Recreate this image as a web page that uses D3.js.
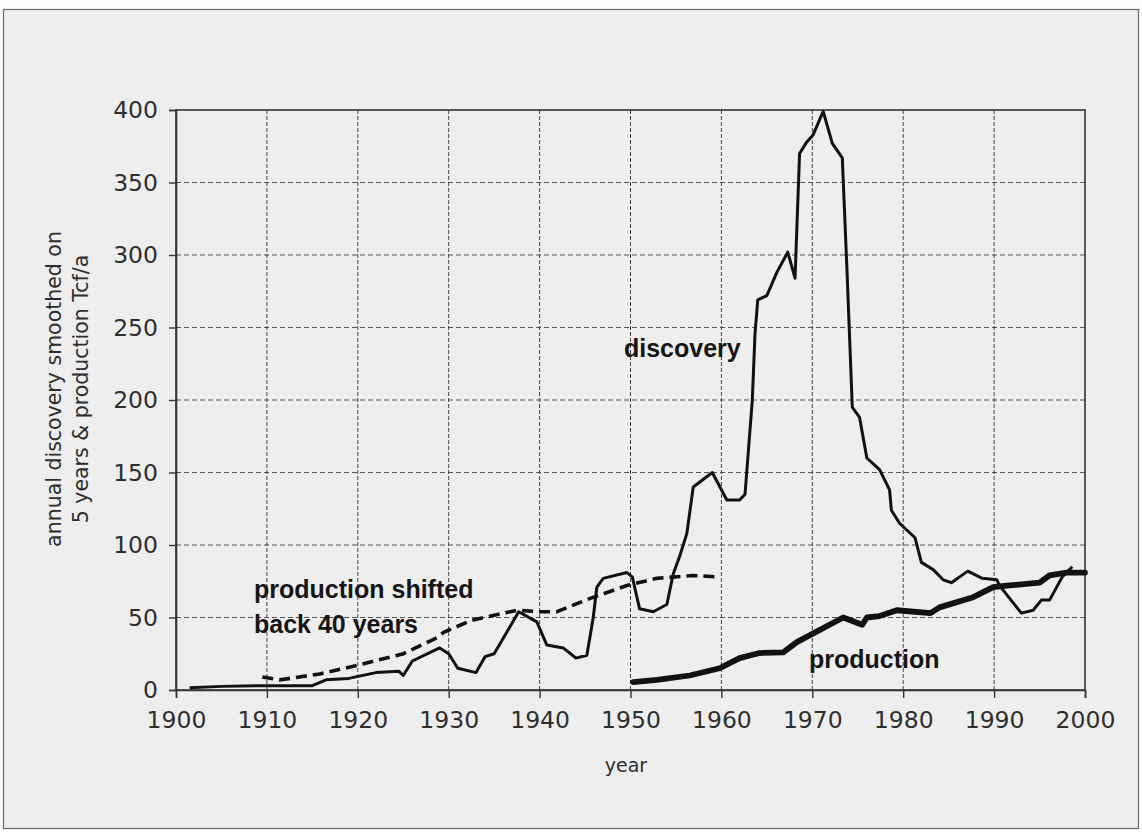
<!DOCTYPE html>
<html><head><meta charset="utf-8">
<script src="https://cdn.jsdelivr.net/npm/d3@7"></script>
<style>
html,body{margin:0;padding:0;background:#fff;}
svg{display:block;}
</style></head>
<body>
<svg id="chart" width="1142" height="832"></svg>
<script>
// ---- data ----
const discoveryYears = [1901.5,1905,1910,1915,1916.5,1919,1922,1924.5,1925,1926,1929,1930,1931,1933,1934,1935,1936.5,1937.7,1939.7,1940.8,1942.6,1944,1945.2,1945.9,1946.3,1947,1949.6,1950.2,1951,1952.5,1954,1954.7,1955.4,1956.2,1956.9,1959,1960.6,1962,1962.6,1963.4,1963.7,1964,1965,1966.1,1967.3,1968.1,1968.6,1969.4,1970.1,1971.2,1972.2,1973.3,1973.8,1974.4,1975.2,1976,1977.4,1978.5,1978.7,1979.6,1981.3,1982,1983.3,1984.4,1985.3,1987.1,1988.7,1990.3,1990.6,1993,1994.3,1995.2,1996.1,1997.5,1998.6];
const discoveryValues = [1.5,2.5,3,3,7,8,12,13,10,20,29,25,15,12,23,25,41,54,47,31,29,22,24,50,71,77,81,78,56,54,59,80,92,108,140,150,131,131,135,200,246,269,272,288,302,284,370,378,383,399,377,367,292,195,188,160,152,138,124,115,105,88,83,76,74,82,77,76,72,53,55,62,62,78,85];

const productionYears = [1950.3,1952.9,1956.5,1959.8,1962,1964.2,1966.8,1968.3,1973.4,1975.5,1976,1977.4,1979.3,1983,1984,1987.7,1989.9,1991.4,1995,1996.1,1998,2000];
const productionValues = [5.5,7,10,15,22,25.5,26,33,50,45,50,51,55,53,57,64,71,72,74,79,81,81];

const shiftedYears = [1909.5,1911.4,1915.8,1919.9,1925,1928.7,1929.5,1932.5,1937.5,1940,1941.9,1945.5,1949.6,1952.9,1956.9,1959.6];
const shiftedValues = [9,7,11,17,25,36,40,48,55,54,54,63,72,77,79,78];

const xTicks = [1900,1910,1920,1930,1940,1950,1960,1970,1980,1990,2000];
const yTicks = [0,50,100,150,200,250,300,350,400];

// ---- layout ----
const svg = d3.select("#chart");
const W = 1142, H = 832;
const mL = 176, mR = 1085, mT = 110, mB = 690;
const x = d3.scaleLinear().domain([1900,2000]).range([mL,mR]);
const y = d3.scaleLinear().domain([0,400]).range([mB,mT]);

svg.append("rect").attr("x",0).attr("y",0).attr("width",W).attr("height",H).attr("fill","#fdfdfd");
svg.append("rect").attr("x",3.5).attr("y",9.5).attr("width",1135).attr("height",819)
  .attr("fill","#eeeeee").attr("stroke","#6a6a6a").attr("stroke-width",1.2);

// grid
const grid = svg.append("g");
grid.selectAll("line.h").data(yTicks.slice(1,-1)).join("line")
  .attr("x1",mL).attr("x2",mR).attr("y1",d=>y(d)).attr("y2",d=>y(d))
  .attr("stroke","#555").attr("stroke-width",1).attr("stroke-dasharray","5,3");
grid.selectAll("line.v").data(xTicks.slice(1,-1)).join("line")
  .attr("y1",mT).attr("y2",mB).attr("x1",d=>x(d)).attr("x2",d=>x(d))
  .attr("stroke","#444").attr("stroke-width",1).attr("stroke-dasharray","4,2");

// frame
svg.append("rect").attr("x",mL).attr("y",mT).attr("width",mR-mL).attr("height",mB-mT)
  .attr("fill","none").attr("stroke","#333").attr("stroke-width",1.6);

// axes
const fontTick = "'DejaVu Sans', sans-serif";
const yAxis = svg.append("g").attr("transform",`translate(${mL},0)`)
  .call(d3.axisLeft(y).tickValues(yTicks).tickSize(7).tickPadding(11));
const xAxis = svg.append("g").attr("transform",`translate(0,${mB})`)
  .call(d3.axisBottom(x).tickValues(xTicks).tickSize(8).tickFormat(d3.format("d")).tickPadding(13));
[yAxis,xAxis].forEach(a=>{
  a.select(".domain").attr("stroke","#333").attr("stroke-width",1.6);
  a.selectAll(".tick line").attr("stroke","#333").attr("stroke-width",1.4);
  a.selectAll(".tick text").attr("fill","#2e2e2e").style("font-family",fontTick).style("font-size","23.5px");
});

// axis titles
svg.append("text").attr("x",626).attr("y",772).attr("text-anchor","middle")
  .style("font-family",fontTick).style("font-size","19px").attr("fill","#2e2e2e").text("year");
const yl = svg.append("text").attr("transform","translate(0,389) rotate(-90)")
  .attr("text-anchor","middle").style("font-family",fontTick).style("font-size","20.5px").attr("fill","#2e2e2e");
yl.append("tspan").attr("x",0).attr("y",61).text("annual discovery smoothed on");
yl.append("tspan").attr("x",0).attr("y",88).text("5 years & production Tcf/a");

// lines
const line = d3.line().x(d=>x(d[0])).y(d=>y(d[1]));
const disc = discoveryYears.map((yr,i)=>[yr,discoveryValues[i]]);
const prod = productionYears.map((yr,i)=>[yr,productionValues[i]]);
const shift = shiftedYears.map((yr,i)=>[yr,shiftedValues[i]]);

svg.append("path").datum(shift).attr("d",line).attr("fill","none")
  .attr("stroke","#111").attr("stroke-width",3.6).attr("stroke-dasharray","11,6");
svg.append("path").datum(disc).attr("d",line).attr("fill","none")
  .attr("stroke","#111").attr("stroke-width",3).attr("stroke-linejoin","round");
svg.append("path").datum(prod).attr("d",line).attr("fill","none")
  .attr("stroke","#111").attr("stroke-width",5.8).attr("stroke-linejoin","round").attr("stroke-linecap","round");

// annotations
const fontAnn = "'Liberation Sans Narrow', 'Arial Narrow', sans-serif";
function ann(tx,ty,t){
  svg.append("text").attr("x",tx).attr("y",ty).style("font-family",fontAnn)
    .style("font-weight","bold").style("font-size","25px").attr("fill","#151515").text(t);
}
ann(624,357,"discovery");
ann(254,598,"production shifted");
ann(254,633,"back 40 years");
ann(809,668,"production");
</script>
</body></html>
